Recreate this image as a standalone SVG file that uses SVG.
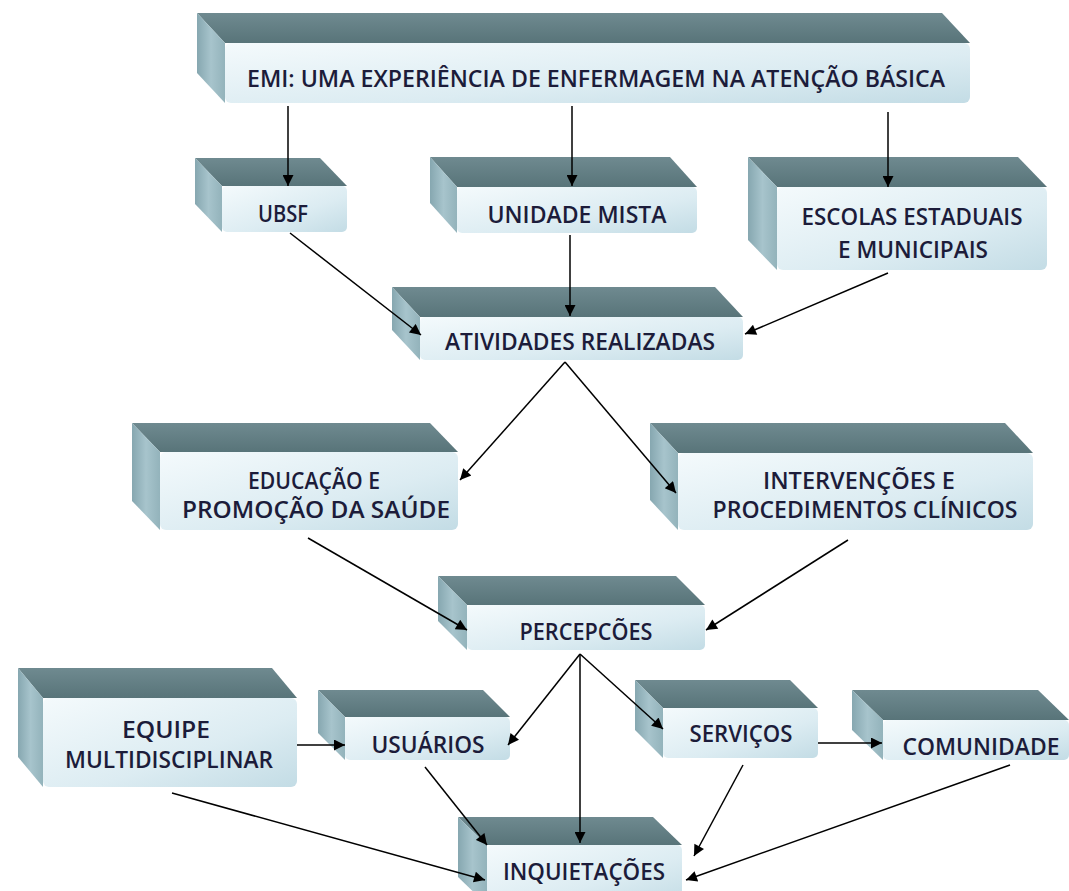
<svg xmlns="http://www.w3.org/2000/svg" width="1069" height="891" viewBox="0 0 1069 891">
<defs>
<linearGradient id="gTop" x1="0" y1="0" x2="0" y2="1">
<stop offset="0" stop-color="#6f8a90"/><stop offset="1" stop-color="#587479"/>
</linearGradient>
<linearGradient id="gLeft" x1="0" y1="0" x2="1" y2="0">
<stop offset="0" stop-color="#86a7b0"/><stop offset="0.5" stop-color="#a7c4cc"/><stop offset="1" stop-color="#93b3bb"/>
</linearGradient>
<linearGradient id="gFront" x1="0" y1="0" x2="1" y2="1">
<stop offset="0" stop-color="#f4fafc"/><stop offset="0.6" stop-color="#dcecf2"/><stop offset="1" stop-color="#c3dce5"/>
</linearGradient>
<marker id="arr" viewBox="0 0 10 10" refX="10" refY="5" markerWidth="13" markerHeight="11" markerUnits="userSpaceOnUse" orient="auto">
<path d="M0,0 L10,5 L0,10 z" fill="#000"/>
</marker>
</defs>
<style>
.top{fill:url(#gTop);}
.left{fill:url(#gLeft);}
.front{fill:url(#gFront);}
.t{font-family:"Open Sans","Liberation Sans",sans-serif;font-size:23px;font-weight:600;fill:#1c1c3a;text-anchor:middle;}
.c{stroke:#000;stroke-width:1.5;fill:none;marker-end:url(#arr);}
</style>
<rect width="1069" height="891" fill="#ffffff"/>
<g id="n-emi">
<polygon class="top" points="197,13 942,13 970,43 225,43"/>
<polygon class="left" points="197,13 225,43 225,103 197,73"/>
<rect class="front" x="225" y="43" width="745" height="60" rx="6"/>
<text class="t" x="596" y="87" textLength="698" lengthAdjust="spacingAndGlyphs" style="font-size:24px">EMI: UMA EXPERIÊNCIA DE ENFERMAGEM NA ATENÇÃO BÁSICA</text>
</g>
<g id="n-ubsf">
<polygon class="top" points="195,158 320,158 347,186 222,186"/>
<polygon class="left" points="195,158 222,186 222,232 195,204"/>
<rect class="front" x="222" y="186" width="125" height="46" rx="5"/>
<text class="t" x="283" y="222" textLength="50" lengthAdjust="spacingAndGlyphs">UBSF</text>
</g>
<g id="n-unidade">
<polygon class="top" points="430,157 670,157 697,187 457,187"/>
<polygon class="left" points="430,157 457,187 457,233 430,203"/>
<rect class="front" x="457" y="187" width="240" height="46" rx="5"/>
<text class="t" x="577" y="223" textLength="179" lengthAdjust="spacingAndGlyphs">UNIDADE MISTA</text>
</g>
<g id="n-escolas">
<polygon class="top" points="748,157 1018,157 1047,187 777,187"/>
<polygon class="left" points="748,157 777,187 777,270 748,240"/>
<rect class="front" x="777" y="187" width="270" height="83" rx="6"/>
<text class="t" x="912" y="225" textLength="221" lengthAdjust="spacingAndGlyphs">ESCOLAS ESTADUAIS</text>
<text class="t" x="913" y="258" textLength="150" lengthAdjust="spacingAndGlyphs">E MUNICIPAIS</text>
</g>
<g id="n-atividades">
<polygon class="top" points="392,287 715,287 743,317 420,317"/>
<polygon class="left" points="392,287 420,317 420,360 392,330"/>
<rect class="front" x="420" y="317" width="323" height="43" rx="5"/>
<text class="t" x="580" y="350" textLength="270" lengthAdjust="spacingAndGlyphs">ATIVIDADES REALIZADAS</text>
</g>
<g id="n-educacao">
<polygon class="top" points="132,423 430,423 458,452 160,452"/>
<polygon class="left" points="132,423 160,452 160,530 132,501"/>
<rect class="front" x="160" y="452" width="298" height="78" rx="6"/>
<text class="t" x="314" y="489" textLength="132" lengthAdjust="spacingAndGlyphs">EDUCAÇÃO E</text>
<text class="t" x="316" y="518" textLength="268" lengthAdjust="spacingAndGlyphs">PROMOÇÃO DA SAÚDE</text>
</g>
<g id="n-intervencoes">
<polygon class="top" points="650,423 1005,423 1033,453 678,453"/>
<polygon class="left" points="650,423 678,453 678,530 650,500"/>
<rect class="front" x="678" y="453" width="355" height="77" rx="6"/>
<text class="t" x="859" y="489" textLength="192" lengthAdjust="spacingAndGlyphs">INTERVENÇÕES E</text>
<text class="t" x="865" y="518" textLength="305" lengthAdjust="spacingAndGlyphs">PROCEDIMENTOS CLÍNICOS</text>
</g>
<g id="n-percepcoes">
<polygon class="top" points="438,576 676,576 705,605 467,605"/>
<polygon class="left" points="438,576 467,605 467,650 438,621"/>
<rect class="front" x="467" y="605" width="238" height="45" rx="5"/>
<text class="t" x="586" y="640" textLength="133" lengthAdjust="spacingAndGlyphs">PERCEPCÕES</text>
</g>
<g id="n-equipe">
<polygon class="top" points="18,668 272,668 297,698 43,698"/>
<polygon class="left" points="18,668 43,698 43,787 18,757"/>
<rect class="front" x="43" y="698" width="254" height="89" rx="6"/>
<text class="t" x="166" y="738" textLength="88" lengthAdjust="spacingAndGlyphs">EQUIPE</text>
<text class="t" x="169" y="768" textLength="208" lengthAdjust="spacingAndGlyphs">MULTIDISCIPLINAR</text>
</g>
<g id="n-usuarios">
<polygon class="top" points="318,690 483,690 510,717 345,717"/>
<polygon class="left" points="318,690 345,717 345,760 318,733"/>
<rect class="front" x="345" y="717" width="165" height="43" rx="5"/>
<text class="t" x="428" y="753" textLength="113" lengthAdjust="spacingAndGlyphs">USUÁRIOS</text>
</g>
<g id="n-servicos">
<polygon class="top" points="635,680 790,680 818,708 663,708"/>
<polygon class="left" points="635,680 663,708 663,758 635,730"/>
<rect class="front" x="663" y="708" width="155" height="50" rx="5"/>
<text class="t" x="741" y="742" textLength="103" lengthAdjust="spacingAndGlyphs">SERVIÇOS</text>
</g>
<g id="n-comunidade">
<polygon class="top" points="852,690 1038,690 1069,720 883,720"/>
<polygon class="left" points="852,690 883,720 883,760 852,730"/>
<rect class="front" x="883" y="720" width="186" height="40" rx="5"/>
<text class="t" x="981" y="755" textLength="157" lengthAdjust="spacingAndGlyphs">COMUNIDADE</text>
</g>
<g id="n-inquietacoes">
<polygon class="top" points="458,817 653,817 682,845 487,845"/>
<polygon class="left" points="458,817 487,845 487,905 458,877"/>
<rect class="front" x="487" y="845" width="195" height="60" rx="5"/>
<text class="t" x="584" y="880" textLength="162" lengthAdjust="spacingAndGlyphs">INQUIETAÇÕES</text>
</g>
<g id="connectors">
<line class="c" x1="288" y1="106" x2="288" y2="186"/>
<line class="c" x1="572" y1="106" x2="572" y2="186"/>
<line class="c" x1="888" y1="112" x2="888" y2="187"/>
<line class="c" x1="290" y1="233" x2="421" y2="335"/>
<line class="c" x1="570" y1="235" x2="570" y2="316"/>
<line class="c" x1="888" y1="273" x2="745" y2="334"/>
<line class="c" x1="565" y1="362" x2="460" y2="480"/>
<line class="c" x1="565" y1="362" x2="676" y2="493"/>
<line class="c" x1="308" y1="538" x2="467" y2="630"/>
<line class="c" x1="848" y1="540" x2="706" y2="630"/>
<line class="c" x1="580" y1="654" x2="508" y2="745"/>
<line class="c" x1="580" y1="654" x2="580" y2="843"/>
<line class="c" x1="580" y1="654" x2="663" y2="729"/>
<line class="c" x1="297" y1="745" x2="345" y2="745"/>
<line class="c" x1="818" y1="743" x2="882" y2="743"/>
<line class="c" x1="425" y1="767" x2="487" y2="845"/>
<line class="c" x1="743" y1="765" x2="694" y2="856"/>
<line class="c" x1="172" y1="793" x2="485" y2="880"/>
<line class="c" x1="1010" y1="765" x2="686" y2="880"/>
</g>
</svg>
